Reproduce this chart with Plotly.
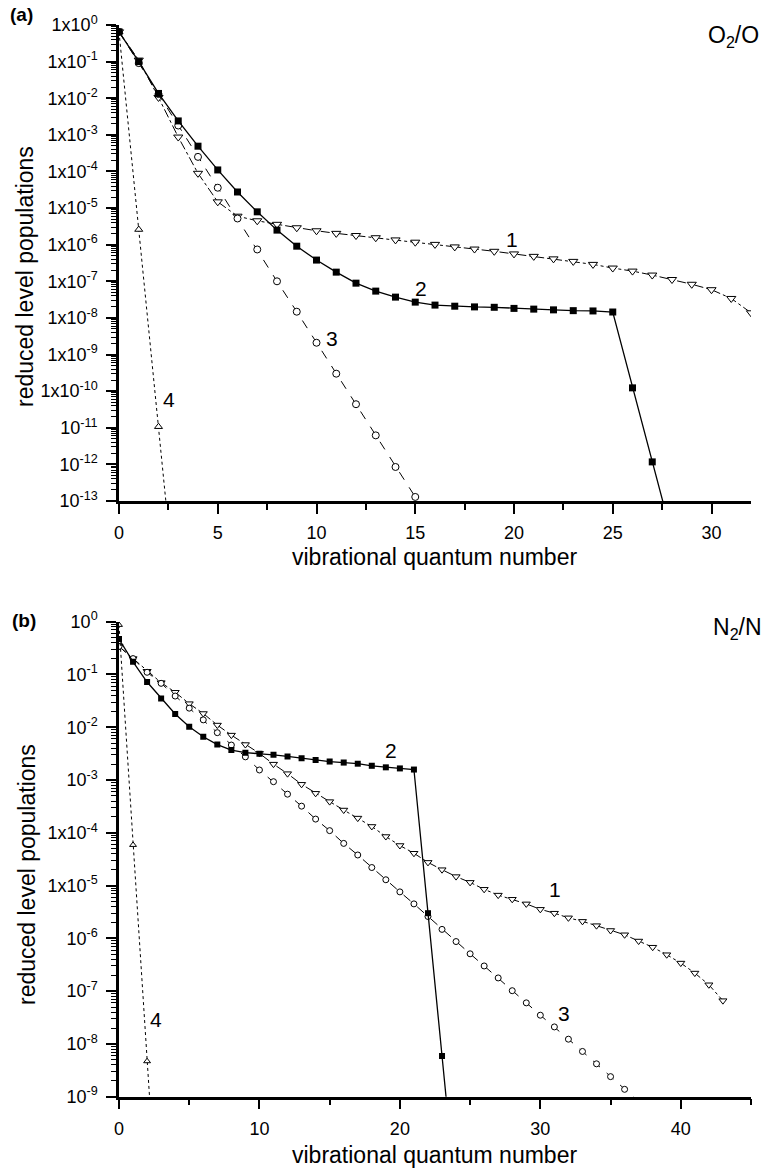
import numpy as np
import plotly.graph_objects as go

# ---------------- data: panel (a) O2/O ----------------
a_v1 = list(range(0, 33))
a_pop1 = [6.5e-1, 1.1e-1, 1.05e-2, 8.7e-4, 8.9e-5, 1.48e-5, 6.0e-6, 4.5e-6, 3.6e-6, 2.9e-6,
          2.4e-6, 2.04e-6, 1.78e-6, 1.55e-6, 1.35e-6, 1.17e-6, 1.02e-6, 8.7e-7, 7.6e-7, 6.6e-7,
          5.6e-7, 4.8e-7, 4.1e-7, 3.5e-7, 2.9e-7, 2.3e-7, 1.9e-7, 1.48e-7, 1.12e-7, 8.3e-8,
          5.9e-8, 3.4e-8, 1.38e-8]

a_v2 = list(range(0, 29))
a_pop2 = [6.5e-1, 1.0e-1, 1.35e-2, 2.4e-3, 4.9e-4, 1.1e-4, 2.75e-5, 7.9e-6, 2.5e-6, 9.1e-7,
          3.8e-7, 1.78e-7, 8.9e-8, 5.4e-8, 3.7e-8, 2.7e-8, 2.24e-8, 2.09e-8, 2.0e-8, 1.95e-8,
          1.82e-8, 1.74e-8, 1.66e-8, 1.58e-8, 1.55e-8, 1.45e-8, 1.23e-10, 1.17e-12, 1.1e-14]

a_v3 = list(range(0, 16))
a_pop3 = [6.5e-1, 9.1e-2, 1.3e-2, 1.8e-3, 2.5e-4, 3.6e-5, 5.2e-6, 7.4e-7, 1.0e-7, 1.48e-8,
          2.1e-9, 3.0e-10, 4.4e-11, 6.2e-12, 8.5e-13, 1.29e-13]

a_v4 = [0, 1, 2, 3]
a_pop4 = [6.5e-1, 2.6e-6, 1.07e-11, 4e-17]

# ---------------- data: panel (b) N2/N ----------------
b_v1 = list(range(0, 44))
b_pop1 = [3.4e-1, 2.0e-1, 1.15e-1, 7.0e-2, 4.6e-2, 2.8e-2, 1.82e-2, 1.1e-2, 7.1e-3, 4.7e-3,
          3.2e-3, 2.0e-3, 1.32e-3, 8.3e-4, 5.6e-4, 3.9e-4, 2.7e-4, 1.9e-4, 1.32e-4, 8.5e-5,
          5.75e-5, 4.1e-5, 2.75e-5, 2.0e-5, 1.48e-5, 1.15e-5, 8.5e-6, 6.6e-6, 5.5e-6, 4.5e-6,
          3.55e-6, 3.0e-6, 2.45e-6, 2.1e-6, 1.74e-6, 1.41e-6, 1.17e-6, 8.9e-7, 6.8e-7, 4.9e-7,
          3.4e-7, 2.2e-7, 1.32e-7, 6.6e-8]

b_v2 = list(range(0, 25))
b_pop2 = [4.7e-1, 1.74e-1, 7.2e-2, 3.5e-2, 1.78e-2, 1.02e-2, 6.6e-3, 4.7e-3, 3.7e-3, 3.3e-3,
          3.16e-3, 3.0e-3, 2.8e-3, 2.6e-3, 2.4e-3, 2.24e-3, 2.14e-3, 2.04e-3, 1.86e-3, 1.74e-3,
          1.66e-3, 1.58e-3, 3.0e-6, 5.9e-9, 1.15e-11]

b_v3 = list(range(0, 38))
b_pop3 = [3.4e-1, 2.0e-1, 1.1e-1, 6.8e-2, 3.9e-2, 2.3e-2, 1.38e-2, 7.9e-3, 4.6e-3, 2.75e-3,
          1.55e-3, 9.3e-4, 5.4e-4, 3.2e-4, 1.82e-4, 1.1e-4, 6.3e-5, 3.8e-5, 2.2e-5, 1.29e-5,
          7.6e-6, 4.5e-6, 2.6e-6, 1.48e-6, 8.7e-7, 5.1e-7, 3.0e-7, 1.78e-7, 1.02e-7, 6.0e-8,
          3.5e-8, 2.1e-8, 1.23e-8, 7.2e-9, 4.2e-9, 2.4e-9, 1.38e-9, 8.1e-10]

b_v4 = [0, 1, 2, 3]
b_pop4 = [8.7e-1, 5.9e-5, 4.7e-9, 4e-13]

# tick labels
a_yexp = list(range(0, -14, -1))
a_yticktext = ["1x10<sup>0</sup>", "1x10<sup>-1</sup>", "1x10<sup>-2</sup>", "1x10<sup>-3</sup>",
               "1x10<sup>-4</sup>", "1x10<sup>-5</sup>", "1x10<sup>-6</sup>", "1x10<sup>-7</sup>",
               "1x10<sup>-8</sup>", "1x10<sup>-9</sup>", "1x10<sup>-10</sup>", "10<sup>-11</sup>",
               "10<sup>-12</sup>", "10<sup>-13</sup>"]
b_yexp = list(range(0, -10, -1))
b_yticktext = ["10<sup>0</sup>", "10<sup>-1</sup>", "10<sup>-2</sup>", "10<sup>-3</sup>",
               "1x10<sup>-4</sup>", "1x10<sup>-5</sup>", "10<sup>-6</sup>", "10<sup>-7</sup>",
               "10<sup>-8</sup>", "10<sup>-9</sup>"]
a_xticks = [0, 5, 10, 15, 20, 25, 30]
a_xminor = [2.5, 7.5, 12.5, 17.5, 22.5, 27.5]
b_xticks = [0, 10, 20, 30, 40]
b_xminor = [5, 15, 25, 35, 45]

# curve labels: (text, x, population)
a_labels = [("1", 19.9, 1.4e-6), ("2", 15.3, 6.5e-8), ("3", 10.8, 2.75e-9), ("4", 2.55, 5.9e-11)]
b_labels = [("1", 31.05, 8.5e-6), ("2", 19.4, 3.7e-3), ("3", 31.65, 3.7e-8), ("4", 2.6, 2.95e-8)]

FONT = "Liberation Sans, Arial, sans-serif"
W, H = 766, 1168
TICKC = "black"

fig = go.Figure()

def add_panel(xa, ya, v1, p1, v2, p2, v3, p3, v4, p4, msize):
    common = dict(xaxis=xa, yaxis=ya, mode="lines+markers", showlegend=False, cliponaxis=True)
    fig.add_trace(go.Scatter(x=v1, y=p1, line=dict(color="black", width=1, dash="dashdot"),
                             marker=dict(symbol="triangle-down", size=msize + 1, color="white",
                                         line=dict(color="black", width=1)), **common))
    fig.add_trace(go.Scatter(x=v3, y=p3, line=dict(color="black", width=1, dash="dash"),
                             marker=dict(symbol="circle", size=msize, color="white",
                                         line=dict(color="black", width=1)), **common))
    fig.add_trace(go.Scatter(x=v4, y=p4, line=dict(color="black", width=1, dash="dot"),
                             marker=dict(symbol="triangle-up", size=msize, color="white",
                                         line=dict(color="black", width=1)), **common))
    fig.add_trace(go.Scatter(x=v2, y=p2, line=dict(color="black", width=1.3),
                             marker=dict(symbol="square", size=msize, color="black",
                                         line=dict(color="black", width=0)), **common))

add_panel("x", "y", a_v1, a_pop1, a_v2, a_pop2, a_v3, a_pop3, a_v4, a_pop4, 7)
add_panel("x2", "y2", b_v1, b_pop1, b_v2, b_pop2, b_v3, b_pop3, b_v4, b_pop4, 6)

def minor_vals(lo, hi):
    out = []
    for k in range(lo, hi):
        for m in range(2, 10):
            out.append(m * 10.0 ** k)
    return out

xdom = [119 / W, 751 / W]
ax_common = dict(showline=True, linecolor="black", linewidth=2.5, ticks="outside",
                 tickcolor=TICKC, tickwidth=2, ticklen=10, showgrid=False, zeroline=False,
                 automargin=False,
                 tickfont=dict(family=FONT, size=18, color="black"), mirror=False)

def xminor(vals):
    return dict(tickvals=vals, ticks="outside", ticklen=6, tickwidth=2, tickcolor=TICKC,
                showgrid=False)

def yminor(vals):
    return dict(tickvals=vals, ticks="outside", ticklen=5, tickwidth=1, tickcolor=TICKC,
                showgrid=False)

fig.update_layout(
    template="none",
    width=W, height=H, margin=dict(l=0, r=0, t=0, b=0, autoexpand=False),
    paper_bgcolor="white", plot_bgcolor="white",
    font=dict(family=FONT, color="black"),
    xaxis=dict(domain=xdom, anchor="y", range=[0, 32], tickvals=a_xticks,
               ticktext=[str(t) for t in a_xticks], minor=xminor(a_xminor),
               ticklabelstandoff=4, **ax_common),
    yaxis=dict(domain=[1 - 501 / H, 1 - 25 / H], anchor="x", type="log", range=[-13, 0],
               tickvals=[10.0 ** e for e in a_yexp], ticktext=a_yticktext,
               minor=yminor(minor_vals(-13, 0)), ticklabelstandoff=5, **ax_common),
    xaxis2=dict(domain=xdom, anchor="y2", range=[0, 45], tickvals=b_xticks,
                ticktext=[str(t) for t in b_xticks], minor=xminor(b_xminor),
                ticklabelstandoff=4, **ax_common),
    yaxis2=dict(domain=[1 - 1096.7 / H, 1 - 621.7 / H], anchor="x2", type="log", range=[-9, 0],
                tickvals=[10.0 ** e for e in b_yexp], ticktext=b_yticktext,
                minor=yminor(minor_vals(-9, 0)), ticklabelstandoff=5, **ax_common),
)

ann = []
for (t, x, p) in a_labels:
    ann.append(dict(text=t, x=x, y=np.log10(p), xref="x", yref="y", showarrow=False,
                    xanchor="center", yanchor="middle",
                    font=dict(family=FONT, size=21, color="black")))
for (t, x, p) in b_labels:
    ann.append(dict(text=t, x=x, y=np.log10(p), xref="x2", yref="y2", showarrow=False,
                    xanchor="center", yanchor="middle",
                    font=dict(family=FONT, size=21, color="black")))

def px(x, y, **kw):
    d = dict(x=x / W, y=1 - y / H, xref="paper", yref="paper", showarrow=False,
             xanchor="center", yanchor="middle")
    d.update(kw)
    return d

ann += [
    px(21, 15, text="<b>(a)</b>", font=dict(family=FONT, size=19, color="black")),
    px(24, 620, text="<b>(b)</b>", font=dict(family=FONT, size=19, color="black")),
    px(761, 37, text="O<sub>2</sub>/O", xanchor="right", font=dict(family=FONT, size=23, color="black")),
    px(764, 628, text="N<sub>2</sub>/N", xanchor="right", font=dict(family=FONT, size=23, color="black")),
    px(25, 277, text="reduced level populations", textangle=-90,
       font=dict(family=FONT, size=23, color="black")),
    px(27, 875, text="reduced level populations", textangle=-90,
       font=dict(family=FONT, size=23, color="black")),
    px(434, 557, text="vibrational quantum number", font=dict(family=FONT, size=23, color="black")),
    px(434, 1155, text="vibrational quantum number", font=dict(family=FONT, size=23, color="black")),
]
fig.update_layout(annotations=ann)

fig.write_html("out.html")
